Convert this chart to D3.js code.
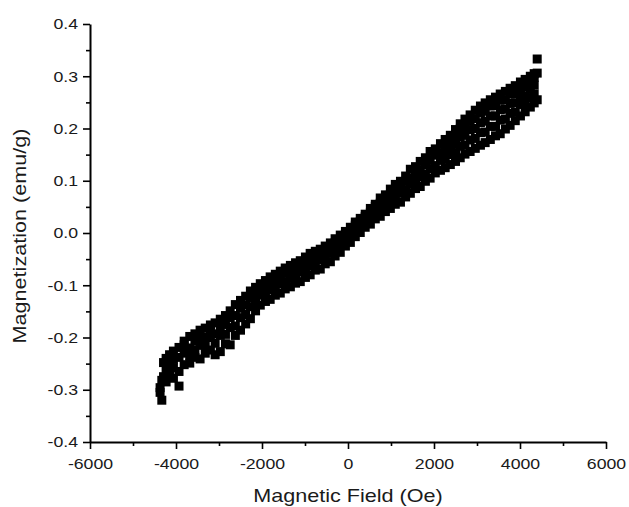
<!DOCTYPE html>
<html>
<head>
<meta charset="utf-8">
<script src="https://cdn.jsdelivr.net/npm/d3@7"></script>
<style>
  body { margin: 0; background: #fff; }
  .tick text { font-family: "Liberation Sans", Arial, sans-serif; font-size: 15px; fill: #1a1a1a; }
  .title { font-family: "Liberation Sans", Arial, sans-serif; font-size: 18px; fill: #1a1a1a; }
</style>
</head>
<body>
<svg id="chart" width="629" height="507"></svg>
<script>
// axis ticks
const xTicks = [-6000, -4000, -2000, 0, 2000, 4000, 6000];
const yTicks = [-0.4, -0.3, -0.2, -0.1, 0.0, 0.1, 0.2, 0.3, 0.4];

// field (Oe) and the magnetization values (emu/g) read at that field
const fieldSteps = [
  -4370, -4330, -4290, -4230, -4150, -4060, -3930, -3810, -3680, -3560,
  -3440, -3320, -3200, -3090, -2970, -2850, -2740, -2620, -2500, -2380,
  -2270, -2150, -2040, -1920, -1810, -1690, -1575, -1460, -1340, -1220,
  -1110, -990, -880, -760, -645, -530, -410, -300, -180, -60,
  55, 170, 285, 400, 520, 635, 750, 870, 985, 1100,
  1220, 1340, 1450, 1570, 1680, 1800, 1910, 2030, 2150, 2260,
  2380, 2500, 2610, 2720, 2840, 2960, 3080, 3190, 3310, 3430,
  3540, 3660, 3770, 3890, 4010, 4120, 4240, 4330, 4400
];
const magnetization = [
  [-0.296, -0.305], [-0.320, -0.282], [-0.275, -0.248], [-0.285, -0.262, -0.240], [-0.270, -0.251, -0.233],
  [-0.278, -0.258, -0.242, -0.226], [-0.293, -0.265, -0.238, -0.219], [-0.252, -0.230, -0.214, -0.207], [-0.249, -0.234, -0.220, -0.198], [-0.238, -0.224, -0.207, -0.193],
  [-0.241, -0.215, -0.200, -0.186], [-0.230, -0.214, -0.199, -0.182], [-0.224, -0.200, -0.185, -0.176], [-0.233, -0.211, -0.193, -0.172], [-0.227, -0.196, -0.180, -0.165],
  [-0.212, -0.194, -0.175, -0.158], [-0.214, -0.181, -0.162, -0.149], [-0.196, -0.178, -0.158, -0.137], [-0.186, -0.162, -0.144, -0.129], [-0.174, -0.156, -0.138, -0.121],
  [-0.164, -0.141, -0.124, -0.111], [-0.149, -0.134, -0.118, -0.104], [-0.138, -0.119, -0.105, -0.097], [-0.131, -0.116, -0.101, -0.091], [-0.127, -0.109, -0.096, -0.084],
  [-0.119, -0.105, -0.089, -0.079], [-0.115, -0.097, -0.086, -0.073], [-0.107, -0.093, -0.077, -0.067], [-0.103, -0.087, -0.075, -0.062], [-0.096, -0.083, -0.067, -0.057],
  [-0.093, -0.075, -0.063, -0.053], [-0.085, -0.071, -0.055, -0.046], [-0.080, -0.063, -0.051, -0.039], [-0.071, -0.059, -0.044, -0.035], [-0.069, -0.051, -0.041, -0.031],
  [-0.059, -0.047, -0.032, -0.025], [-0.055, -0.039, -0.029, -0.019], [-0.044, -0.033, -0.019, -0.011], [-0.037, -0.023, -0.013, -0.004], [-0.025, -0.016, -0.003, 0.003],
  [-0.018, -0.005, 0.003, 0.011], [-0.007, 0.003, 0.015, 0.021], [0.001, 0.013, 0.021, 0.028], [0.011, 0.019, 0.031, 0.036], [0.017, 0.031, 0.039, 0.047],
  [0.027, 0.037, 0.051, 0.055], [0.032, 0.047, 0.057, 0.067], [0.041, 0.053, 0.067, 0.073], [0.047, 0.063, 0.073, 0.084], [0.055, 0.069, 0.083, 0.093],
  [0.059, 0.076, 0.087, 0.099], [0.069, 0.083, 0.099, 0.109], [0.076, 0.093, 0.105, 0.122], [0.085, 0.099, 0.115, 0.127], [0.089, 0.107, 0.121, 0.137],
  [0.099, 0.113, 0.131, 0.144], [0.105, 0.123, 0.139, 0.156], [0.115, 0.129, 0.149, 0.161], [0.120, 0.139, 0.154, 0.171], [0.125, 0.141, 0.156, 0.170, 0.179],
  [0.131, 0.150, 0.165, 0.180, 0.187], [0.137, 0.154, 0.171, 0.185, 0.198], [0.144, 0.166, 0.184, 0.199, 0.209], [0.151, 0.168, 0.187, 0.203, 0.218], [0.156, 0.178, 0.198, 0.214, 0.226],
  [0.162, 0.181, 0.200, 0.219, 0.235], [0.168, 0.192, 0.211, 0.230, 0.243], [0.173, 0.193, 0.214, 0.233, 0.249], [0.179, 0.204, 0.224, 0.243, 0.255], [0.186, 0.204, 0.224, 0.244, 0.260],
  [0.190, 0.216, 0.236, 0.254, 0.266], [0.199, 0.218, 0.237, 0.255, 0.271], [0.206, 0.229, 0.248, 0.266, 0.277], [0.215, 0.231, 0.249, 0.266, 0.282], [0.224, 0.246, 0.262, 0.277, 0.289],
  [0.232, 0.247, 0.262, 0.279, 0.294], [0.241, 0.259, 0.275, 0.290, 0.300], [0.249, 0.266, 0.283, 0.298, 0.305], [0.255, 0.306, 0.333]
];

const svg = d3.select('#chart');
const MARGIN = { left: 90, right: 23, top: 24, bottom: 65 };
const W = +svg.attr('width');
const H = +svg.attr('height');
const STRETCH = 1.18; // the original's lettering is wider than Arial

const x = d3.scaleLinear().domain([-6000, 6000]).range([MARGIN.left, W - MARGIN.right]);
const y = d3.scaleLinear().domain([-0.4, 0.4]).range([H - MARGIN.bottom, MARGIN.top]);

// flatten the readings into points
const points = [];
fieldSteps.forEach((h, i) => {
  magnetization[i].forEach((m) => points.push({ h: h, m: m }));
});

// squares
const SQ = 9;
svg.append('g')
  .selectAll('rect')
  .data(points)
  .join('rect')
  .attr('x', (d) => x(d.h) - SQ / 2)
  .attr('y', (d) => y(d.m) - SQ / 2)
  .attr('width', SQ)
  .attr('height', SQ)
  .attr('fill', '#000');

// minor ticks
const xMinor = d3.range(-5000, 6000, 2000);
const yMinor = d3.range(-0.35, 0.4, 0.1);

svg.append('g')
  .attr('transform', `translate(0,${y(-0.4)})`)
  .call(d3.axisBottom(x).tickValues(xMinor).tickSize(4).tickFormat(''))
  .call((g) => g.select('.domain').remove())
  .call((g) => g.selectAll('line').attr('stroke', '#000').attr('stroke-width', 1.6));

svg.append('g')
  .attr('transform', `translate(${x(-6000)},0)`)
  .call(d3.axisLeft(y).tickValues(yMinor).tickSize(4).tickFormat(''))
  .call((g) => g.select('.domain').remove())
  .call((g) => g.selectAll('line').attr('stroke', '#000').attr('stroke-width', 1.6));

// major axes
const xAxis = svg.append('g')
  .attr('transform', `translate(0,${y(-0.4)})`)
  .call(d3.axisBottom(x).tickValues(xTicks).tickSize(7).tickSizeOuter(0).tickPadding(9));

const yAxis = svg.append('g')
  .attr('transform', `translate(${x(-6000)},0)`)
  .call(d3.axisLeft(y).tickValues(yTicks).tickSize(7).tickSizeOuter(0).tickPadding(5));

[xAxis, yAxis].forEach((g) => {
  g.select('.domain').attr('stroke', '#000').attr('stroke-width', 2);
  g.selectAll('.tick line').attr('stroke', '#000').attr('stroke-width', 1.6);
  g.selectAll('.tick text').attr('font-family', null).attr('font-size', null);
});
xAxis.selectAll('.tick text')
  .text((d) => String(d))
  .attr('transform', `scale(${STRETCH},1)`);
yAxis.selectAll('.tick text')
  .text((d) => (d < 0 ? '-' : '') + Math.abs(d).toFixed(1))
  .attr('x', -12 / STRETCH)
  .attr('transform', `scale(${STRETCH},1)`);

// axis titles
svg.append('text')
  .attr('class', 'title')
  .attr('transform', `translate(${x(0)},502) scale(${STRETCH + 0.02},1)`)
  .attr('text-anchor', 'middle')
  .text('Magnetic Field (Oe)');

svg.append('text')
  .attr('class', 'title')
  .attr('transform', `translate(26,236) rotate(-90) scale(${STRETCH + 0.02},1)`)
  .attr('text-anchor', 'middle')
  .text('Magnetization (emu/g)');
</script>
</body>
</html>
